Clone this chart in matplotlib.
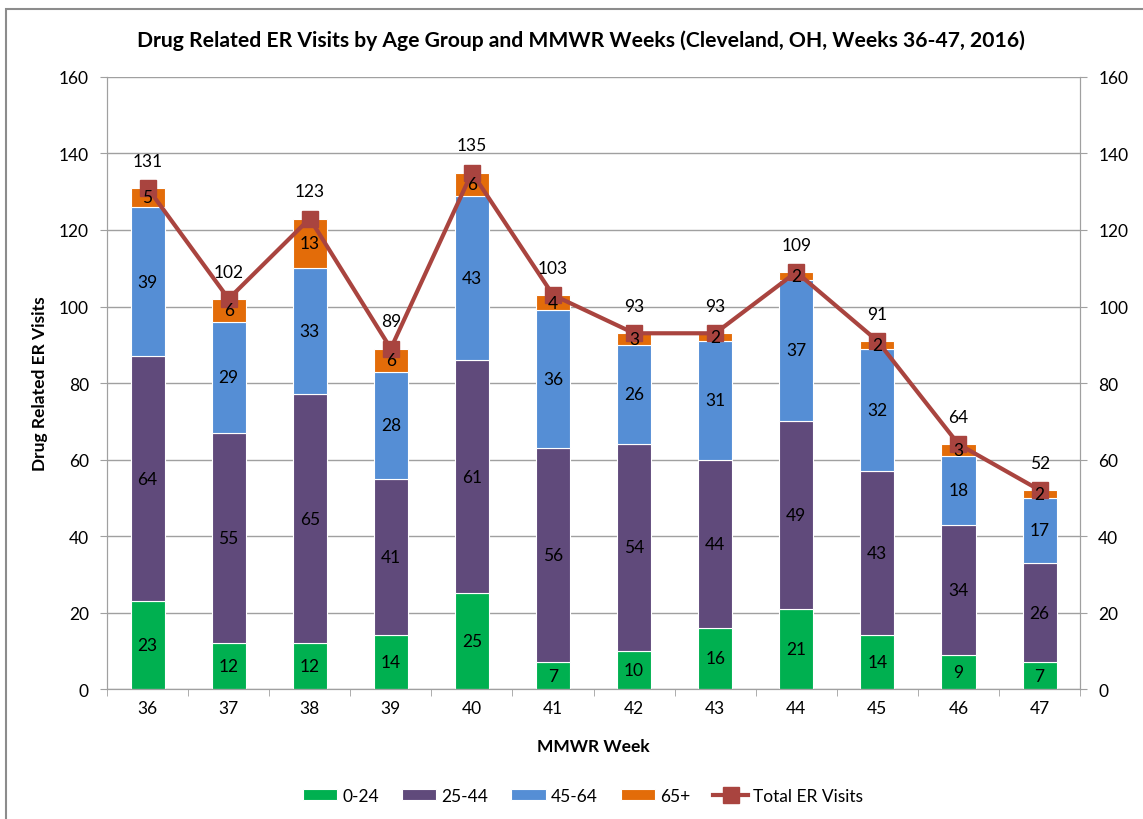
import numpy as np
import matplotlib.pyplot as plt
from matplotlib.patches import Rectangle

weeks = ['36', '37', '38', '39', '40', '41', '42', '43', '44', '45', '46', '47']
age_0_24 = [23, 12, 12, 14, 25, 7, 10, 16, 21, 14, 9, 7]
age_25_44 = [64, 55, 65, 41, 61, 56, 54, 44, 49, 43, 34, 26]
age_45_64 = [39, 29, 33, 28, 43, 36, 26, 31, 37, 32, 18, 17]
age_65 = [5, 6, 13, 6, 6, 4, 3, 2, 2, 2, 3, 2]
total = [131, 102, 123, 89, 135, 103, 93, 93, 109, 91, 64, 52]

series = [('0-24', age_0_24, '#00B050'),
          ('25-44', age_25_44, '#604A7B'),
          ('45-64', age_45_64, '#558ED5'),
          ('65+', age_65, '#E36C09')]

plt.rcParams['font.family'] = ['Lato', 'DejaVu Sans']

fig = plt.figure(figsize=(11.43, 8.2), dpi=100)
ax = fig.add_axes([0.0936, 0.1585, 0.8514, 0.7464])

x = np.arange(len(weeks))
bottom = np.zeros(len(weeks))
for name, vals, col in series:
    vals = np.array(vals)
    ax.bar(x, vals, 0.42, bottom=bottom, color=col, edgecolor='white',
           linewidth=0.8, label=name, zorder=2)
    for xi, b, v in zip(x, bottom, vals):
        ax.text(xi, b + v / 2, str(v), ha='center', va='center',
                fontsize=12.5, color='black', zorder=5)
    bottom += vals

ax.plot(x, total, color='#A9443F', linewidth=3, marker='s', markersize=11,
        markerfacecolor='#A9443F', markeredgecolor='#A9443F',
        label='Total ER Visits', zorder=4)
for xi, t in zip(x, total):
    ax.text(xi, t + 5, str(t), ha='center', va='bottom', fontsize=12.5, zorder=5)

ax.set_xlim(-0.5, len(weeks) - 0.5)
ax.set_ylim(0, 160)
ax.set_yticks(range(0, 161, 20))
ax.set_xticks(x)
ax.set_xticklabels(weeks)
ax.set_xticks(np.arange(-0.5, len(weeks), 1), minor=True)
ax.tick_params(axis='x', which='major', length=0, labelsize=12.5, pad=8)
ax.tick_params(axis='x', which='minor', length=5, color='#A0A0A0')
ax.tick_params(axis='y', length=5, color='#A0A0A0', labelsize=12.5, pad=8)
ax.grid(axis='y', color='#A0A0A0', linewidth=1, zorder=0)
ax.set_axisbelow(True)
for s in ['left', 'right', 'bottom']:
    ax.spines[s].set_color('#A0A0A0')
ax.spines['top'].set_visible(False)

ax2 = ax.twinx()
ax2.set_ylim(0, 160)
ax2.set_yticks(range(0, 161, 20))
ax2.tick_params(axis='y', length=5, color='#A0A0A0', labelsize=12.5, pad=8)
for s in ['left', 'right', 'bottom']:
    ax2.spines[s].set_color('#A0A0A0')
ax2.spines['top'].set_visible(False)

ax.set_xlabel('MMWR Week', fontsize=12.5, fontweight='bold', labelpad=16)
ax.set_ylabel('Drug Related ER Visits', fontsize=12.5, fontweight='bold', labelpad=8)
fig.text(0.508, 0.95, 'Drug Related ER Visits by Age Group and MMWR Weeks (Cleveland, OH, Weeks 36-47, 2016)',
         ha='center', va='center', fontsize=15.2, fontweight='bold')

h, l = ax.get_legend_handles_labels()
order = [1, 2, 3, 4, 0]
fig.legend([h[i] for i in order], [l[i] for i in order], loc='center',
           bbox_to_anchor=(0.51, 0.028), ncol=5, frameon=False, fontsize=12.5,
           handlelength=2.0, handleheight=0.6, columnspacing=1.3, handletextpad=0.3)

fig.patches.append(Rectangle((6 / 1143, -0.1), 1.2, 1 - 10 / 820 + 0.1,
                             transform=fig.transFigure, fill=False,
                             edgecolor='#8C8C8C', linewidth=1.5))

fig.savefig('out.png', dpi=100)
